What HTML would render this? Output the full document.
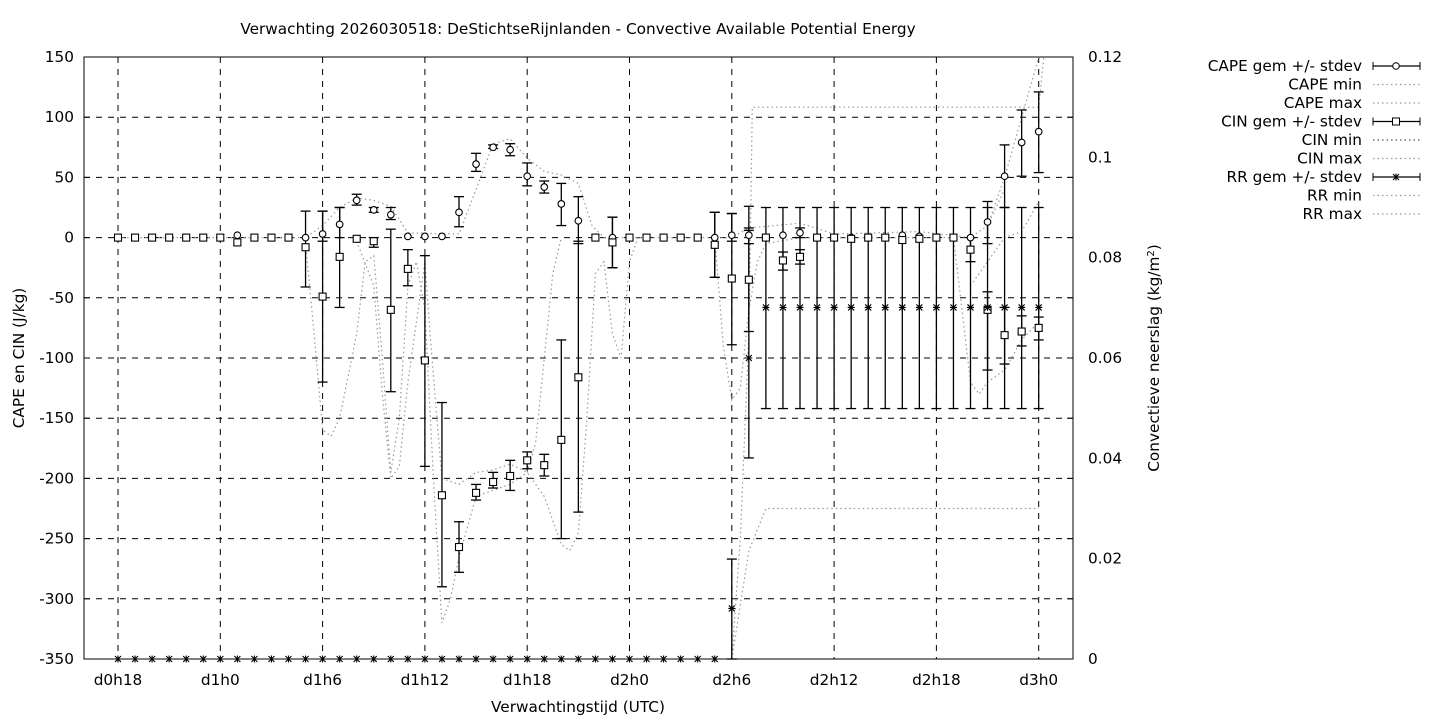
<!DOCTYPE html>
<html><head><meta charset="utf-8"><style>
body{margin:0;background:#fff}
svg text{font-family:"DejaVu Sans","Liberation Sans",sans-serif;font-size:15.3px;fill:#000}
</style></head><body>
<svg id="s" width="1440" height="720" xmlns="http://www.w3.org/2000/svg"></svg>
<script>
const S=document.getElementById('s');let h='';
const X0=118,DX=17.05,Y=v=>57+(150-v)*1.204,X=i=>X0+i*DX,R=r=>-350+r/0.12*500;
for(let v=-300;v<=100;v+=50)h+=`<line x1="84" x2="1073" y1="${Y(v)}" y2="${Y(v)}" stroke="#000" stroke-dasharray="6,6" stroke-width="1"/>`;
for(let k=0;k<10;k++){let x=X(k*6);h+=`<line x1="${x}" x2="${x}" y1="57" y2="659" stroke="#000" stroke-dasharray="6,6" stroke-width="1"/>`;}
h+=`<rect x="84" y="57" width="989" height="602" fill="none" stroke="#000"/>`;
for(let v=-350;v<=150;v+=50){let y=Y(v);h+=`<line x1="84" x2="90" y1="${y}" y2="${y}" stroke="#000"/><line x1="1073" x2="1067" y1="${y}" y2="${y}" stroke="#000"/><text x="74" y="${y+5}" text-anchor="end">${v}</text>`;}
['0','0.02','0.04','0.06','0.08','0.1','0.12'].forEach((t,k)=>{let y=Y(R(k*0.02));h+=`<text x="1088" y="${y+5}">${t}</text>`;});
const xl=['d0h18','d1h0','d1h6','d1h12','d1h18','d2h0','d2h6','d2h12','d2h18','d3h0'];
xl.forEach((t,k)=>{let x=X(k*6);h+=`<text x="${x}" y="685" text-anchor="middle">${t}</text>`});
h+=`<text x="578" y="34" text-anchor="middle">Verwachting 2026030518: DeStichtseRijnlanden - Convective Available Potential Energy</text>`;
h+=`<text x="578" y="712" text-anchor="middle">Verwachtingstijd (UTC)</text>`;
h+=`<text transform="translate(24,358) rotate(-90)" text-anchor="middle">CAPE en CIN (J/kg)</text>`;
h+=`<text transform="translate(1159,358) rotate(-90)" text-anchor="middle">Convectieve neerslag (kg/m<tspan dy="-5" font-size="10">2</tspan><tspan dy="5">)</tspan></text>`;
function curve(pts){let d=pts.map((p,j)=>(j?'L':'M')+X(p[0]).toFixed(1)+','+Y(p[1]).toFixed(1)).join('');h+=`<path d="${d}" fill="none" stroke="#999" stroke-width="1.2" stroke-dasharray="1.5,3"/>`;}
curve([[0,0],[11,0],[12,10],[13,25],[14,33],[15,31],[16,26],[17,4],[20,3],[21,40],[22,78],[23,82],[24,66],[25,55],[26,52],[27,45],[27.8,10],[28.5,0],[36,0],[37,8],[40,12],[42,3],[47,5],[50,0],[51,10],[52,40]]);
curve([[11,-5],[11.5,-80],[12,-160],[12.5,-165],[13,-150],[14,-80],[14.5,-20],[15,-15],[15.5,-100],[16,-195],[16.5,-150],[17,-40],[17.5,-20],[18,-60],[18.5,-200],[19,-320],[19.5,-300],[20,-265],[21,-215],[22,-210],[23,-205],[24,-195],[24.5,-170],[25,-100],[25.5,-30],[26,0]]);
curve([[14,-3],[15,-40],[15.5,-130],[16,-200],[16.5,-190],[17,-120],[18,-20],[18.3,-80],[19,-200],[20,-205],[21,-195],[22,-193],[23,-188],[24,-195],[25,-215],[26,-255],[26.5,-260],[27,-245],[27.5,-150],[28,-30],[28.5,-20],[29,-80],[29.5,-100],[30,-20],[30.5,0]]);
curve([[35,0],[35.5,-90],[36,-135],[36.5,-125],[37,-60],[37.5,-20],[38,-5],[40,0],[49,0],[49.5,-60],[50,-120],[50.5,-130],[51,-120],[52,-110],[53,-85],[54,-70]]);
curve([[36,-350],[36.5,-250],[37,-80],[37.2,R(0.11)],[54,R(0.11)],[54.3,R(0.12)]]);
curve([[36,-350],[37,-260],[38,-225],[54,-225]]);
curve([[50,-40],[51,-20],[52,0],[53,5],[54,30]]);
curve([[51,10],[52,50],[53,100],[54,150]]);
const cape=[[0,0],[1,0],[2,0],[3,0],[4,0],[5,0],[6,0],[7,2],[8,0],[9,0],[10,0],[11,0],[12,3,-3,22],[13,11,0,25],[14,31,27,36],[15,23,21,25],[16,19,15,25],[17,1],[18,1],[19,1],[20,21,9,34],[21,61,55,70],[22,75,74,77],[23,73,68,78],[24,51,43,62],[25,42,37,47],[26,28,10,45],[27,14,-5,34],[28,0],[29,0,-25,17],[30,0],[31,0],[32,0],[33,0],[34,0],[35,0,-33,21],[36,2,-3,20],[37,2,-5,8],[38,0],[39,2],[40,4,0,8],[41,0],[42,0],[43,0],[44,0],[45,0],[46,2],[47,1],[48,0],[49,0],[50,0],[51,13,-5,30],[52,51,25,77],[53,79,51,106],[54,88,54,121]];
const cin=[[0,0],[1,0],[2,0],[3,0],[4,0],[5,0],[6,0],[7,-4],[8,0],[9,0],[10,0],[11,-8,-41,22],[12,-49,-120,22],[13,-16,-58,25],[14,-1],[15,-3,-8,0],[16,-60,-128,7],[17,-26,-40,-10],[18,-102,-190,-15],[19,-214,-290,-137],[20,-257,-278,-236],[21,-212,-218,-205],[22,-203,-208,-195],[23,-198,-210,-185],[24,-185,-192,-178],[25,-189,-198,-180],[26,-168,-250,-85],[27,-116,-228,-3],[28,0],[29,-4,-25,17],[30,0],[31,0],[32,0],[33,0],[34,0],[35,-6,-33,21],[36,-34,-89,20],[37,-35,-78,6],[38,0],[39,-19,-27,-12],[40,-16,-22,-10],[41,0],[42,0],[43,-1],[44,0],[45,0],[46,-2],[47,-1],[48,0],[49,0],[50,-10,-20,0],[51,-60,-110,-45],[52,-81,-105,-58],[53,-78,-90,-65],[54,-75,-85,-66]];
const rr=[];for(let i=0;i<36;i++)rr.push([i,-350]);rr.push([36,-308,-350,-267]);rr.push([37,-100,-183,26]);for(let i=38;i<55;i++)rr.push([i,-58,-142,25]);
function bars(arr){arr.forEach(a=>{if(a.length<4)return;let x=X(a[0]),y1=Y(a[2]),y2=Y(a[3]);h+=`<line x1="${x}" x2="${x}" y1="${y1}" y2="${y2}" stroke="#000" stroke-width="1.3"/><line x1="${x-5}" x2="${x+5}" y1="${y1}" y2="${y1}" stroke="#000" stroke-width="1.3"/><line x1="${x-5}" x2="${x+5}" y1="${y2}" y2="${y2}" stroke="#000" stroke-width="1.3"/>`;});}
bars(rr);bars(cape);bars(cin);
cape.forEach(a=>{h+=`<circle cx="${X(a[0])}" cy="${Y(a[1])}" r="3.3" fill="#fff" stroke="#000" stroke-width="1.1"/>`});
cin.forEach(a=>{h+=`<rect x="${X(a[0])-3.5}" y="${Y(a[1])-3.5}" width="7" height="7" fill="#fff" stroke="#000" stroke-width="1.1"/>`});
function star(x,y){return `<path d="M${x-3.5},${y}H${x+3.5}M${x},${y-3.5}V${y+3.5}M${x-3},${y-3}L${x+3},${y+3}M${x-3},${y+3}L${x+3},${y-3}" stroke="#000" stroke-width="1.1"/>`}
rr.forEach(a=>{h+=star(X(a[0]),Y(a[1]))});
const L=['CAPE gem +/- stdev','CAPE min','CAPE max','CIN gem +/- stdev','CIN min','CIN max','RR gem +/- stdev','RR min','RR max'];
L.forEach((t,k)=>{let y=66+k*18.5;h+=`<text x="1362" y="${y+5}" text-anchor="end">${t}</text>`;
 if(k%3==0){h+=`<line x1="1373" x2="1420" y1="${y}" y2="${y}" stroke="#000" stroke-width="1.3"/><line x1="1373" x2="1373" y1="${y-4}" y2="${y+4}" stroke="#000"/><line x1="1420" x2="1420" y1="${y-4}" y2="${y+4}" stroke="#000"/>`;
  if(k==0)h+=`<circle cx="1396" cy="${y}" r="3.3" fill="#fff" stroke="#000"/>`;else if(k==3)h+=`<rect x="1392.5" y="${y-3.5}" width="7" height="7" fill="#fff" stroke="#000"/>`;else h+=star(1396,y);}
 else h+=`<line x1="1373" x2="1420" y1="${y}" y2="${y}" stroke="${k==4?'#555':'#999'}" stroke-width="1.2" stroke-dasharray="1.5,3"/>`;});
S.innerHTML=h;
</script>
</body></html>
